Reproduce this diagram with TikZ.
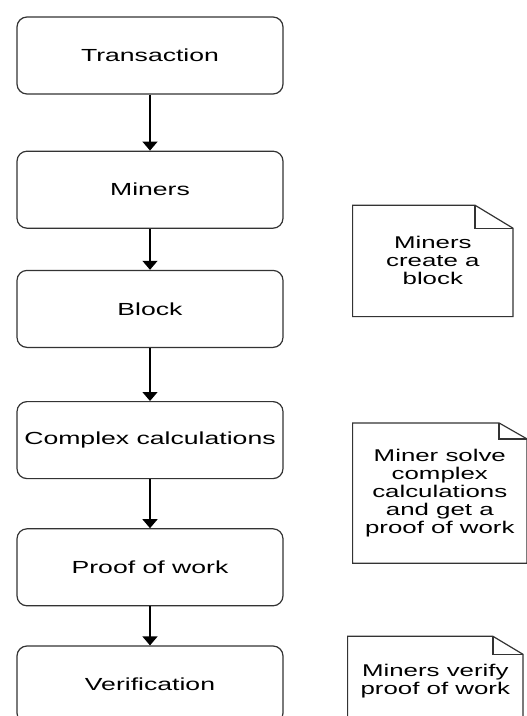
\documentclass[tikz,border=0pt]{standalone}
\usepackage{fontspec}
\setmainfont{Liberation Sans}[FakeStretch=1.52]
\usetikzlibrary{arrows.meta,positioning,calc}
\definecolor{cline}{HTML}{333333}

\begin{document}
\begin{tikzpicture}[
    x=1pt, y=-1pt,
    stage/.style={draw=cline, line width=1.2pt, rounded corners=10pt, align=center,
                  minimum width=266pt, minimum height=77pt, inner sep=0pt,
                  font=\fontsize{17.5}{18}\selectfont},
    note/.style={align=center, inner sep=0pt, font=\fontsize{17}{18}\selectfont},
    fold/.style={draw=cline, line width=1.2pt, line join=miter},
    arr/.style={-{Triangle[length=9pt,width=15pt]}, line width=1.3pt, draw=black}
]
\useasboundingbox (0,0) rectangle (527,716);

\node[stage] (tx) at (150,55.5) {Transaction};
\node[stage, below=56pt of tx] (mn) {Miners};
\node[stage, below=41pt of mn] (bl) {Block};
\node[stage, below=53pt of bl] (cx) {Complex calculations};
\node[stage, below=49pt of cx] (pw) {Proof of work};
\node[stage, below=39pt of pw] (vf) {Verification};

\node[note, minimum width=160pt, minimum height=111pt, right=69pt of bl, yshift=48pt] (n1) {Miners\\create a\\block};
\node[note, minimum width=174pt, minimum height=140pt, right=69pt of cx, yshift=-53pt] (n2) {Miner solve\\complex\\calculations\\and get a\\proof of work};
\node[note, minimum width=175pt, minimum height=90pt, right=64pt of vf, yshift=3pt] (n3) {Miners verify\\proof of work};

% dog-eared note outlines
\foreach \n/\fx/\fy in {n1/38/23, n2/28/16, n3/30/18} {
  \draw[fold] (\n.north west) -- ($(\n.north east)+(-\fx,0)$) -- ($(\n.north east)+(0,\fy)$)
      -- (\n.south east) -- (\n.south west) -- cycle;
  \draw[fold] ($(\n.north east)+(-\fx,0)$) |- ($(\n.north east)+(0,\fy)$);
}

\draw[arr] (tx) -- (mn);
\draw[arr] (mn) -- (bl);
\draw[arr] (bl) -- (cx);
\draw[arr] (cx) -- (pw);
\draw[arr] (pw) -- (vf);
\end{tikzpicture}
\end{document}
